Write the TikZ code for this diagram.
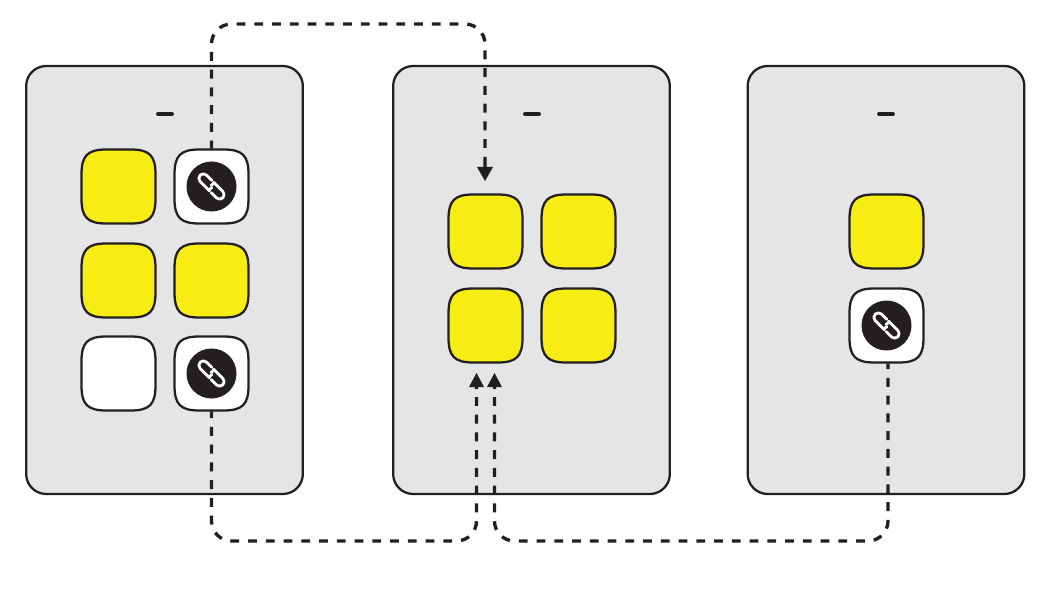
\documentclass[tikz,border=0pt]{standalone}
\usetikzlibrary{arrows.meta}
\definecolor{inkblack}{HTML}{231F20}
\definecolor{screengray}{HTML}{E5E5E7}
\definecolor{tileyellow}{HTML}{F7EC13}
\tikzset{
	screen/.style={draw=inkblack, line width=1.7pt, fill=screengray, rounded corners=15pt, minimum width=207.5pt, minimum height=321pt, inner sep=0pt},
	tile/.style={minimum size=56.25pt, inner sep=0pt},
	tileline/.style={draw=inkblack, line width=1.7pt},
	badge/.style={circle, fill=inkblack, minimum size=37.5pt, inner sep=0pt},
	chainlink/.style={draw=white, line width=2.1pt, line cap=round, line join=round, rounded corners=3.3pt},
	slot/.style={line width=2.9pt, line cap=round, draw=inkblack},
	jump/.style={draw=inkblack, line width=2.5pt, dash pattern=on 6.65pt off 6.66pt, rounded corners=15pt},
	jumptip/.style={fill=inkblack, draw=none},
}
% tile with slightly bulging sides
\newcommand{\tile}[3]{
	\node[tile] (#1) at (#3) {};
	\draw[tileline, fill=#2, shift={(#3)}] (-37,-12)
		.. controls (-37,-31) and (-31,-37) .. (-12,-37) -- (12,-37)
		.. controls (31,-37) and (37,-31) .. (37,-12) -- (37,12)
		.. controls (37,31) and (31,37) .. (12,37) -- (-12,37)
		.. controls (-31,37) and (-37,31) .. (-37,12) -- cycle;
}
\newcommand{\linkbadge}[1]{
	\node[badge] (#1badge) at (#1) {};
	\begin{scope}[shift={(#1)}, rotate=-45]
	\draw[chainlink] (-4,-4.5) -- (-16,-4.5) -- (-16,4.5) -- (-3,4.5) .. controls (0,4.5) and (1,3) .. (1,0.5);
	\draw[chainlink] (4,4.5) -- (16,4.5) -- (16,-4.5) -- (3,-4.5) .. controls (0,-4.5) and (-1,-3) .. (-1,-0.5);
	\end{scope}
}
\begin{document}
\begin{tikzpicture}[x=0.75pt, y=-0.75pt]
	\useasboundingbox (0,0) rectangle (1037,591);
	% screens
	\node[screen] (left) at (164.5,280) {};
	\node[screen] (middle) at (531.5,280) {};
	\node[screen] (right) at (886,280) {};
	\draw[slot] (158,114) coordinate (lefta) -- (172,114) coordinate (leftb);
	\draw[slot] (525,114) coordinate (middlea) -- (539,114) coordinate (middleb);
	\draw[slot] (879,114) coordinate (righta) -- (893,114) coordinate (rightb);
	% left tiles
	\tile{la}{tileyellow}{118.5,186.5}
	\tile{lb}{white}{211.5,186.5}
	\tile{lc}{tileyellow}{118.5,280.5}
	\tile{ld}{tileyellow}{211.5,280.5}
	\tile{le}{white}{118.5,373.5}
	\tile{lf}{white}{211.5,373.5}
	\linkbadge{lb}
	\linkbadge{lf}
	% middle tiles
	\tile{ma}{tileyellow}{485.5,231.5}
	\tile{mb}{tileyellow}{578.5,231.5}
	\tile{mc}{tileyellow}{485.5,325.5}
	\tile{md}{tileyellow}{578.5,325.5}
	% right tiles
	\tile{ra}{tileyellow}{886.5,231.5}
	\tile{rb}{white}{886.5,325.5}
	\linkbadge{rb}
	% free ends and turns of the jumps
	\coordinate (toptail) at (485,148);
	\coordinate (topturn) at (485,24);
	\coordinate (lowtaila) at (476.5,397);
	\coordinate (lowturna) at (476.5,541);
	\coordinate (lowtailb) at (494.5,397);
	\coordinate (lowturnb) at (494.5,541);
	% jumps
	\draw[jump] (toptail) -- (topturn) -| (lb.north);
	\draw[jump] (lowtaila) -- (lowturna) -| (lf.south);
	\draw[jump] (lowtailb) -- (lowturnb) -| ([xshift=1.1pt]rb.south);
	% arrow heads
	\fill[jumptip] (485,181) -- (477,167) -- (483.3,167) -- (483.3,157) -- (486.7,157) -- (486.7,167) -- (493,167) -- cycle;
	\fill[jumptip] (476.5,373) -- (469,387) -- (474.8,387) -- (474.8,389) -- (478.2,389) -- (478.2,387) -- (484,387) -- cycle;
	\fill[jumptip] (494.5,373) -- (487,387) -- (492.8,387) -- (492.8,389) -- (496.2,389) -- (496.2,387) -- (502,387) -- cycle;
\end{tikzpicture}
\end{document}
